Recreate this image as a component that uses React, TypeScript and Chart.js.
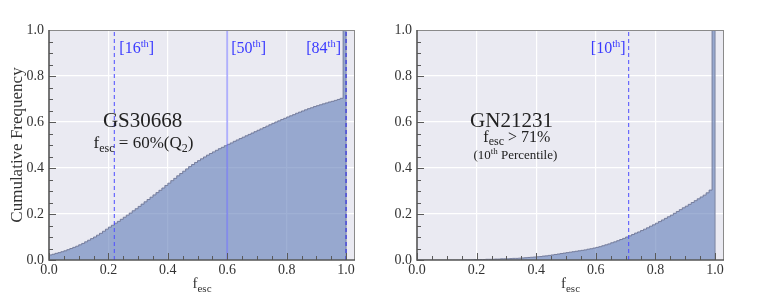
import React, { useEffect, useRef } from 'react';
import { Chart, registerables } from 'chart.js';

Chart.register(...registerables);

const FONT = '"Liberation Serif", "DejaVu Serif", serif';

// ---------- data ----------
const BIN_WIDTH = 0.01;

// cumulative frequency per f_esc bin (bin i covers [i*0.01, (i+1)*0.01])
const GS30668_CUM = [
  0.022, 0.025, 0.029, 0.032, 0.036, 0.040, 0.045, 0.050, 0.055, 0.060,
  0.066, 0.072, 0.079, 0.086, 0.093, 0.100, 0.108, 0.116, 0.125, 0.134,
  0.143, 0.151, 0.160, 0.168, 0.177, 0.186, 0.195, 0.204, 0.214, 0.223,
  0.233, 0.243, 0.253, 0.263, 0.273, 0.283, 0.293, 0.303, 0.313, 0.324,
  0.334, 0.345, 0.355, 0.366, 0.376, 0.386, 0.396, 0.406, 0.415, 0.424,
  0.432, 0.440, 0.448, 0.456, 0.463, 0.470, 0.477, 0.484, 0.490, 0.497,
  0.503, 0.509, 0.516, 0.522, 0.528, 0.534, 0.540, 0.546, 0.552, 0.558,
  0.564, 0.570, 0.576, 0.582, 0.588, 0.594, 0.600, 0.605, 0.611, 0.616,
  0.622, 0.627, 0.632, 0.638, 0.643, 0.648, 0.653, 0.658, 0.662, 0.667,
  0.671, 0.675, 0.679, 0.683, 0.687, 0.690, 0.694, 0.698, 0.703, 1.000,
];

const GN21231_CUM = [
  0.000, 0.000, 0.000, 0.000, 0.000, 0.000, 0.000, 0.000, 0.000, 0.000,
  0.000, 0.000, 0.000, 0.000, 0.000, 0.001, 0.001, 0.001, 0.001, 0.002,
  0.002, 0.002, 0.002, 0.003, 0.003, 0.003, 0.004, 0.004, 0.005, 0.005,
  0.005, 0.006, 0.007, 0.007, 0.008, 0.009, 0.010, 0.011, 0.012, 0.013,
  0.014, 0.015, 0.017, 0.018, 0.020, 0.022, 0.024, 0.026, 0.028, 0.030,
  0.032, 0.034, 0.036, 0.038, 0.040, 0.042, 0.044, 0.047, 0.049, 0.052,
  0.055, 0.058, 0.062, 0.066, 0.070, 0.075, 0.079, 0.084, 0.089, 0.094,
  0.100, 0.105, 0.111, 0.117, 0.122, 0.128, 0.134, 0.140, 0.147, 0.153,
  0.160, 0.167, 0.174, 0.181, 0.188, 0.195, 0.203, 0.211, 0.219, 0.227,
  0.234, 0.242, 0.250, 0.258, 0.266, 0.274, 0.282, 0.292, 0.304, 1.000,
];

const GS_PCT_NAMES = ['16', '50', '84'];
const GS_PCT_VALUES = [0.22, 0.6, 1.0];
const GN_PCT_NAMES = ['10'];
const GN_PCT_VALUES = [0.71];

const TICK_LABELS = ['0.0', '0.2', '0.4', '0.6', '0.8', '1.0'];
const AXIS_MAX_X = 1.03;

// ---------- helpers ----------
type Run = { t: string; size: number; dy?: number };

function drawRuns(
  ctx: CanvasRenderingContext2D,
  runs: Run[],
  x: number,
  y: number,
  align: 'left' | 'center' | 'right',
  color: string
) {
  ctx.save();
  ctx.fillStyle = color;
  ctx.textBaseline = 'alphabetic';
  ctx.textAlign = 'left';
  let total = 0;
  const widths = runs.map((r) => {
    ctx.font = `${r.size}px ${FONT}`;
    const w = ctx.measureText(r.t).width;
    total += w;
    return w;
  });
  let cx = align === 'left' ? x : align === 'right' ? x - total : x - total / 2;
  runs.forEach((r, i) => {
    ctx.font = `${r.size}px ${FONT}`;
    ctx.fillText(r.t, cx, y + (r.dy || 0));
    cx += widths[i];
  });
  ctx.restore();
}

function stepPoints(cum: number[]) {
  const pts: { x: number; y: number }[] = [{ x: 0, y: 0 }];
  cum.forEach((v, i) => pts.push({ x: Math.round(i * BIN_WIDTH * 100) / 100, y: v }));
  const end = Math.round(cum.length * BIN_WIDTH * 100) / 100;
  pts.push({ x: end, y: cum[cum.length - 1] });
  pts.push({ x: end, y: 0 });
  return pts;
}

const isMajor = (v: number) => Math.round(v * 100) % 20 === 0;

type Note = { runs: Run[]; x: number; y: number; align: 'left' | 'center' | 'right'; color: string };
type PctStyle = { dash: number[]; color: string; width: number; side: 'left' | 'right'; dx: number };

type PanelCfg = {
  left: number;
  width: number;
  yAxisWidth: number;
  padRight: number;
  cum: number[];
  pctNames: string[];
  pctValues: number[];
  pctStyles: PctStyle[];
  notes: Note[];
  yTitle: boolean;
};

function Panel({ cfg }: { cfg: PanelCfg }) {
  const ref = useRef<HTMLCanvasElement | null>(null);

  useEffect(() => {
    const canvas = ref.current;
    if (!canvas) return;

    const framePlugin = {
      id: 'frame' + cfg.left,
      beforeDraw(chart: any) {
        const { ctx, chartArea: a } = chart;
        ctx.save();
        ctx.fillStyle = '#EAEAF2';
        ctx.fillRect(a.left, a.top, a.right - a.left, a.bottom - a.top);
        ctx.restore();
      },
      afterDatasetsDraw(chart: any) {
        const { ctx, chartArea: a, scales } = chart;
        const xs = scales.x;
        const ys = scales.y;
        ctx.save();
        // inner tick marks
        ctx.strokeStyle = '#5a5a5a';
        ctx.lineWidth = 1;
        xs.ticks.forEach((t: any) => {
          const px = Math.round(xs.getPixelForValue(t.value)) + 0.5;
          const len = isMajor(t.value) ? 7 : 4;
          ctx.beginPath();
          ctx.moveTo(px, a.bottom);
          ctx.lineTo(px, a.bottom - len);
          ctx.stroke();
        });
        ys.ticks.forEach((t: any) => {
          const py = Math.round(ys.getPixelForValue(t.value)) + 0.5;
          const len = isMajor(t.value) ? 7 : 4;
          ctx.beginPath();
          ctx.moveTo(a.left, py);
          ctx.lineTo(a.left + len, py);
          ctx.stroke();
        });
        // spines
        ctx.strokeStyle = '#8a8a8a';
        ctx.lineWidth = 1;
        ctx.beginPath();
        ctx.moveTo(a.left, a.top + 0.5);
        ctx.lineTo(a.right, a.top + 0.5);
        ctx.moveTo(a.right - 0.5, a.top);
        ctx.lineTo(a.right - 0.5, a.bottom);
        ctx.stroke();
        ctx.strokeStyle = '#555';
        ctx.lineWidth = 1.6;
        ctx.beginPath();
        ctx.moveTo(a.left, a.top);
        ctx.lineTo(a.left, a.bottom);
        ctx.lineTo(a.right, a.bottom);
        ctx.stroke();
        ctx.restore();

        // percentile labels
        cfg.pctNames.forEach((name, i) => {
          const st = cfg.pctStyles[i];
          const px = xs.getPixelForValue(cfg.pctValues[i]) + st.dx;
          drawRuns(
            ctx,
            [
              { t: '[' + name, size: 16 },
              { t: 'th', size: 10.5, dy: -6.5 },
              { t: ']', size: 16 },
            ],
            px,
            a.top + 23,
            st.side,
            '#3a3aff'
          );
        });

        // notes
        cfg.notes.forEach((n) => {
          drawRuns(ctx, n.runs, xs.getPixelForValue(n.x), ys.getPixelForValue(n.y), n.align, n.color);
        });

        // x-axis title f_esc
        drawRuns(
          ctx,
          [
            { t: 'f', size: 15 },
            { t: 'esc', size: 11, dy: 3.5 },
          ],
          (a.left + a.right) / 2,
          288,
          'center',
          '#333'
        );
      },
    };

    const datasets: any[] = [
      {
        type: 'line',
        data: stepPoints(cfg.cum),
        stepped: 'before',
        fill: 'origin',
        backgroundColor: 'rgba(100,128,185,0.62)',
        borderColor: 'rgba(110,118,150,0.9)',
        borderWidth: 1,
        pointRadius: 0,
        order: 2,
      },
    ];
    cfg.pctValues.forEach((v, i) => {
      const st = cfg.pctStyles[i];
      datasets.push({
        type: 'line',
        data: [
          { x: v, y: 0 },
          { x: v, y: 1 },
        ],
        borderColor: st.color,
        borderWidth: st.width,
        borderDash: st.dash,
        pointRadius: 0,
        fill: false,
        order: 1,
      });
    });

    const chart = new Chart(canvas, {
      type: 'line',
      data: { datasets },
      plugins: [framePlugin],
      options: {
        animation: false,
        responsive: false,
        devicePixelRatio: 1,
        events: [],
        layout: { padding: { left: 0, right: cfg.padRight, top: 30, bottom: 0 } },
        plugins: {
          legend: { display: false },
          tooltip: { enabled: false },
          title: { display: false },
        },
        scales: {
          x: {
            type: 'linear',
            min: 0,
            max: AXIS_MAX_X,
            afterFit: (s: any) => {
              s.height = 38;
            },
            ticks: {
              stepSize: 0.05,
              includeBounds: false,
              autoSkip: false,
              maxRotation: 0,
              padding: 2,
              color: '#333',
              font: { family: FONT, size: 14 },
              callback: (v: any) => (isMajor(Number(v)) ? TICK_LABELS[Math.round(Number(v) * 5)] : ''),
            },
            grid: {
              drawTicks: false,
              color: (c: any) => (c.tick && isMajor(c.tick.value) ? '#ffffff' : 'rgba(0,0,0,0)'),
              lineWidth: 1.2,
            },
            border: { display: false },
          },
          y: {
            type: 'linear',
            min: 0,
            max: 1,
            afterFit: (s: any) => {
              s.width = cfg.yAxisWidth;
            },
            ticks: {
              stepSize: 0.05,
              autoSkip: false,
              padding: 5,
              color: '#333',
              font: { family: FONT, size: 14 },
              callback: (v: any) => (isMajor(Number(v)) ? TICK_LABELS[Math.round(Number(v) * 5)] : ''),
            },
            grid: {
              drawTicks: false,
              color: (c: any) => (c.tick && isMajor(c.tick.value) ? '#ffffff' : 'rgba(0,0,0,0)'),
              lineWidth: 1.2,
            },
            border: { display: false },
            title: {
              display: cfg.yTitle,
              text: 'Cumulative Frequency',
              color: '#333',
              font: { family: FONT, size: 17 },
              padding: { top: 7, bottom: 0 },
            },
          },
        },
      } as any,
    });

    return () => chart.destroy();
  }, [cfg]);

  return (
    <div style={{ position: 'absolute', left: cfg.left, top: 0, width: cfg.width, height: 298 }}>
      <canvas ref={ref} width={cfg.width} height={298} style={{ display: 'block' }} />
    </div>
  );
}

const DASH_LIGHT: PctStyle = { dash: [4, 3], color: 'rgba(80,80,255,0.85)', width: 1.2, side: 'left', dx: 5 };

const LEFT_CFG: PanelCfg = {
  left: 0,
  width: 380,
  yAxisWidth: 49,
  padRight: 25,
  cum: GS30668_CUM,
  pctNames: GS_PCT_NAMES,
  pctValues: GS_PCT_VALUES,
  pctStyles: [
    DASH_LIGHT,
    { dash: [], color: 'rgba(110,110,255,0.55)', width: 1.8, side: 'left', dx: 4 },
    { dash: [4, 3], color: 'rgba(40,40,230,0.9)', width: 1.2, side: 'right', dx: -5 },
  ],
  notes: [
    { runs: [{ t: 'GS30668', size: 21 }], x: 0.315, y: 0.58, align: 'center', color: '#222' },
    {
      runs: [
        { t: 'f', size: 17 },
        { t: 'esc', size: 12, dy: 3.5 },
        { t: ' = 60%(Q', size: 17 },
        { t: '2', size: 12, dy: 3.5 },
        { t: ')', size: 17 },
      ],
      x: 0.318,
      y: 0.485,
      align: 'center',
      color: '#222',
    },
  ],
  yTitle: true,
};

const RIGHT_CFG: PanelCfg = {
  left: 380,
  width: 384,
  yAxisWidth: 37,
  padRight: 40,
  cum: GN21231_CUM,
  pctNames: GN_PCT_NAMES,
  pctValues: GN_PCT_VALUES,
  pctStyles: [{ ...DASH_LIGHT, side: 'right', dx: -3 }],
  notes: [
    { runs: [{ t: 'GN21231', size: 21 }], x: 0.317, y: 0.58, align: 'center', color: '#222' },
    {
      runs: [
        { t: 'f', size: 16 },
        { t: 'esc', size: 12, dy: 3.5 },
        { t: ' > 71%', size: 16 },
      ],
      x: 0.335,
      y: 0.514,
      align: 'center',
      color: '#222',
    },
    {
      runs: [
        { t: '(10', size: 13 },
        { t: 'th', size: 9, dy: -5 },
        { t: ' Percentile)', size: 13 },
      ],
      x: 0.33,
      y: 0.439,
      align: 'center',
      color: '#222',
    },
  ],
  yTitle: false,
};

export default function App() {
  return (
    <div style={{ position: 'absolute', left: 0, top: 0, width: 764, height: 298, background: '#fff', overflow: 'hidden' }}>
      <Panel cfg={LEFT_CFG} />
      <Panel cfg={RIGHT_CFG} />
    </div>
  );
}
